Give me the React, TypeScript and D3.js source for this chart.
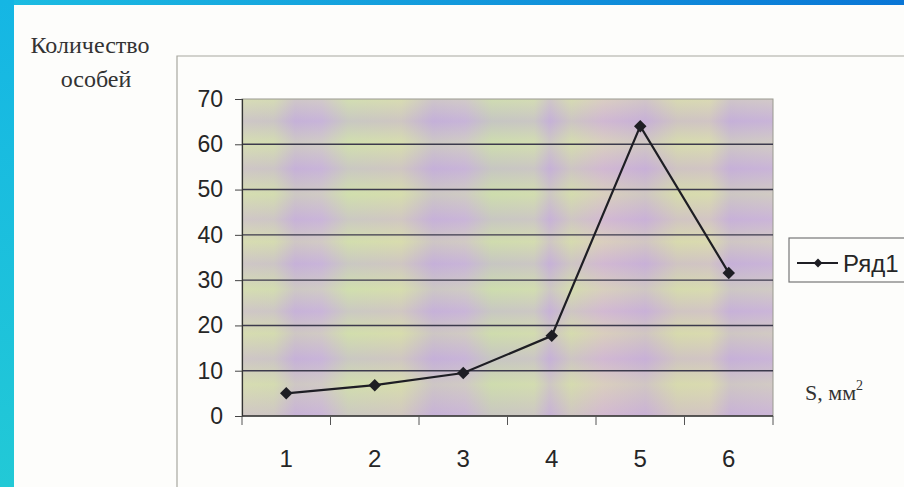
import React, { useEffect, useRef } from "react";
import * as d3 from "d3";

const categories = ["1", "2", "3", "4", "5", "6"];
const seriesValues = [5, 6.8, 9.5, 17.7, 64, 31.6];
const yTicks = [0, 10, 20, 30, 40, 50, 60, 70];
const seriesName = "Ряд1";
const yTitleLines = ["Количество", "особей"];

const W = 904;
const H = 487;

export default function App() {
  const ref = useRef<SVGSVGElement>(null);

  useEffect(() => {
    const svg = d3.select(ref.current);
    svg.selectAll("*").remove();

    const defs = svg.append("defs");
    const gTop = defs.append("linearGradient").attr("id", "gTop").attr("x1", "0").attr("x2", "1").attr("y1", "0").attr("y2", "0");
    gTop.append("stop").attr("offset", "0").attr("stop-color", "#1cbde2");
    gTop.append("stop").attr("offset", "1").attr("stop-color", "#0a76d6");
    const gLeft = defs.append("linearGradient").attr("id", "gLeft").attr("x1", "0").attr("x2", "0").attr("y1", "0").attr("y2", "1");
    gLeft.append("stop").attr("offset", "0").attr("stop-color", "#15b6e4");
    gLeft.append("stop").attr("offset", "1").attr("stop-color", "#22c9d6");

    const vStops: [number, string][] = [
      [0, "#d6dcb4"], [0.06, "#d2dab2"], [0.1, "#c6b2d8"], [0.15, "#cbb8da"],
      [0.2, "#cde0ac"], [0.3, "#d8dcac"], [0.36, "#c4b0d9"], [0.42, "#cab8d8"],
      [0.47, "#c7dcac"], [0.55, "#cfdcb0"], [0.58, "#c6b2d6"], [0.62, "#d4daae"],
      [0.68, "#dcc0cc"], [0.76, "#cab0d6"], [0.82, "#d8d8ac"], [0.88, "#dcd8b0"],
      [0.92, "#c6b0d8"], [1, "#cdb8d8"],
    ];
    const gV = defs.append("linearGradient").attr("id", "gV").attr("x1", "0").attr("x2", "1").attr("y1", "0").attr("y2", "0");
    vStops.forEach(([o, c]) => gV.append("stop").attr("offset", o).attr("stop-color", c));
    const hStops: [number, string][] = [
      [0, "#d8dcb8"], [0.07, "#c4b0d8"], [0.14, "#d6e0b0"],
      [0.22, "#c6b0d8"], [0.3, "#d4deae"], [0.38, "#c9b2d8"],
      [0.45, "#d8dcb0"], [0.52, "#c6b0d8"], [0.6, "#d4deb0"],
      [0.67, "#c8b2d8"], [0.74, "#d6dcae"], [0.82, "#c6b0d8"],
      [0.9, "#d6dcb0"], [1, "#cab2d6"],
    ];
    const gH = defs.append("linearGradient").attr("id", "gH").attr("x1", "0").attr("x2", "0").attr("y1", "0").attr("y2", "1");
    hStops.forEach(([o, c]) => gH.append("stop").attr("offset", o).attr("stop-color", c).attr("stop-opacity", 0.5));

    svg.append("rect").attr("width", W).attr("height", H).attr("fill", "#fdfdfb");
    svg.append("rect").attr("x", 0).attr("y", 0).attr("width", W).attr("height", 5).attr("fill", "url(#gTop)");
    svg.append("rect").attr("x", 0).attr("y", 0).attr("width", 14).attr("height", H).attr("fill", "url(#gLeft)");

    svg.append("path").attr("d", `M177,${H} L177,56 L${W},56`).attr("fill", "none").attr("stroke", "#a8a8a0").attr("stroke-width", 1.2);

    const x0 = 242, x1 = 773, yTop = 99, yBot = 416;
    const x = d3.scaleBand<string>().domain(categories).range([x0, x1]);
    const y = d3.scaleLinear().domain([0, 70]).range([yBot, yTop]);

    const plot = svg.append("g");
    plot.append("rect").attr("x", x0).attr("y", yTop).attr("width", x1 - x0).attr("height", yBot - yTop).attr("fill", "url(#gV)");
    plot.append("rect").attr("x", x0).attr("y", yTop).attr("width", x1 - x0).attr("height", yBot - yTop).attr("fill", "url(#gH)");
    plot.append("rect").attr("x", x0).attr("y", yTop).attr("width", x1 - x0).attr("height", yBot - yTop)
      .attr("fill", "none").attr("stroke", "#9a9a90").attr("stroke-width", 1);

    plot.selectAll("line.grid").data(yTicks.filter((t) => t > 0 && t < 70)).join("line")
      .attr("class", "grid").attr("x1", x0).attr("x2", x1)
      .attr("y1", (d) => y(d)).attr("y2", (d) => y(d))
      .attr("stroke", "#3c3a4c").attr("stroke-width", 1.4);

    const sansFont = "'Liberation Sans', Arial, sans-serif";
    const serifFont = "'Liberation Serif', 'Times New Roman', serif";

    const yAxis = d3.axisLeft(y).tickValues(yTicks).tickSize(7).tickPadding(12);
    const ya = svg.append("g").attr("transform", `translate(${x0},0)`).call(yAxis);
    ya.select(".domain").attr("stroke", "#333").attr("stroke-width", 1.2);
    ya.selectAll(".tick line").attr("stroke", "#444");
    ya.selectAll(".tick text").attr("font-family", sansFont).attr("font-size", 23).attr("fill", "#262626");

    const xa = svg.append("g").attr("transform", `translate(0,${yBot})`);
    xa.append("line").attr("x1", x0).attr("x2", x1).attr("y1", 0).attr("y2", 0).attr("stroke", "#333").attr("stroke-width", 1.6);
    const bounds = [...categories.map((c) => x(c)!), x1];
    xa.selectAll("line.xt").data(bounds).join("line").attr("class", "xt")
      .attr("x1", (d) => d).attr("x2", (d) => d).attr("y1", 0).attr("y2", 9).attr("stroke", "#555").attr("stroke-width", 1);
    xa.selectAll("text.xl").data(categories).join("text").attr("class", "xl")
      .attr("x", (d) => x(d)! + x.bandwidth() / 2).attr("y", 51)
      .attr("text-anchor", "middle").attr("font-family", sansFont)
      .attr("font-size", 24).attr("fill", "#262626").text((d) => d);

    const pts = categories.map((c, i) => [x(c)! + x.bandwidth() / 2, y(seriesValues[i])] as [number, number]);
    svg.append("path").attr("d", d3.line()(pts)!).attr("fill", "none").attr("stroke", "#1e1e24").attr("stroke-width", 2.2);
    const sym = d3.symbol().type(d3.symbolDiamond2).size(100);
    svg.selectAll("path.mk").data(pts).join("path").attr("class", "mk")
      .attr("transform", (d) => `translate(${d[0]},${d[1]})`).attr("d", sym()!).attr("fill", "#1e1e24");

    const lg = svg.append("g");
    lg.append("rect").attr("x", 789).attr("y", 238).attr("width", 130).attr("height", 44)
      .attr("fill", "#fdfdfb").attr("stroke", "#777").attr("stroke-width", 1.2);
    lg.append("line").attr("x1", 797).attr("x2", 838).attr("y1", 263).attr("y2", 263).attr("stroke", "#1e1e24").attr("stroke-width", 2);
    lg.append("path").attr("transform", "translate(818,263)").attr("d", d3.symbol().type(d3.symbolDiamond2).size(50)()!).attr("fill", "#1e1e24");
    lg.append("text").attr("x", 843).attr("y", 272).attr("font-family", sansFont)
      .attr("font-size", 24).attr("fill", "#262626").text(seriesName);

    svg.selectAll("text.yt").data(yTitleLines).join("text").attr("class", "yt")
      .attr("x", (d, i) => (i === 0 ? 90 : 96)).attr("y", (d, i) => 53 + i * 34)
      .attr("text-anchor", "middle").attr("font-family", serifFont)
      .attr("font-size", 24).attr("fill", "#333").text((d) => d);

    const xt = svg.append("text").attr("x", 805).attr("y", 400)
      .attr("font-family", serifFont).attr("font-size", 22).attr("fill", "#333");
    xt.append("tspan").text("S, мм");
    xt.append("tspan").attr("font-size", 14).attr("dy", -10).text("2");
  }, []);

  return (
    <svg
      ref={ref}
      width={W}
      height={H}
      style={{ position: "absolute", left: 0, top: 0, display: "block" }}
    />
  );
}
